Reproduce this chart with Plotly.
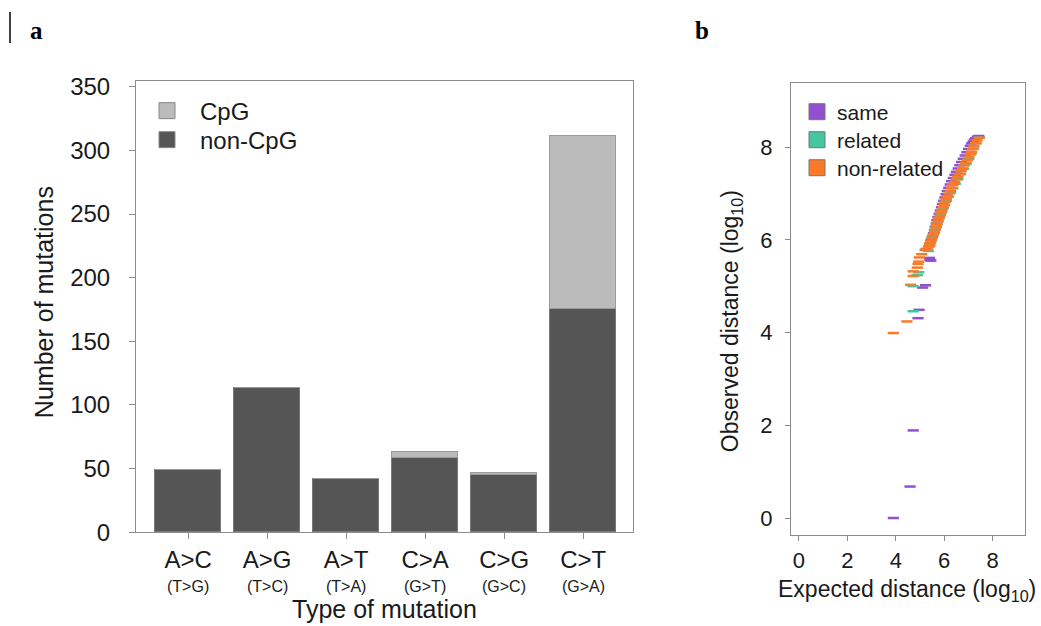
import plotly.graph_objects as go

# ---------------- Panel a data ----------------
mutation_types = ["A&gt;C", "A&gt;G", "A&gt;T", "C&gt;A", "C&gt;G", "C&gt;T"]
complement_types = ["(T&gt;G)", "(T&gt;C)", "(T&gt;A)", "(G&gt;T)", "(G&gt;C)", "(G&gt;A)"]
non_cpg = [49, 113, 42, 58, 45, 175]
cpg = [0, 0, 0, 5, 1.5, 136]
y_ticks_a = [0, 50, 100, 150, 200, 250, 300, 350]

# ---------------- Panel b data ----------------
same_x = [3.90, 4.59, 4.72, 4.92, 4.96, 5.11, 5.23, 5.39, 5.41, 5.45,
          5.46, 5.52, 5.56, 5.60, 5.63, 5.67, 5.70, 5.74, 5.79, 5.84, 5.89, 5.93,
          5.98, 6.03, 6.08, 6.13, 6.19, 6.25, 6.31, 6.38, 6.45, 6.51, 6.58, 6.65,
          6.72, 6.79, 6.87, 6.94, 7.01, 7.08, 7.14, 7.20, 7.25, 7.30, 7.37, 7.43]
same_y = [0.00, 0.68, 1.89, 4.31, 4.49, 4.97, 5.02, 5.61, 5.57, 5.55,
          6.00, 6.07, 6.14, 6.21, 6.28, 6.35, 6.42, 6.49, 6.56, 6.63, 6.70, 6.77,
          6.84, 6.91, 6.98, 7.05, 7.12, 7.19, 7.26, 7.33, 7.40, 7.47, 7.54, 7.61,
          7.68, 7.75, 7.82, 7.89, 7.96, 8.03, 8.08, 8.12, 8.16, 8.19, 8.22, 8.24]

related_x = [4.72, 4.72, 4.89, 4.95, 5.35, 5.25,
             5.36, 5.40, 5.45, 5.50, 5.55, 5.60, 5.65, 5.70, 5.75, 5.80, 5.85,
             5.90, 5.96, 6.02, 6.10, 6.18, 6.27, 6.36, 6.46, 6.57, 6.68, 6.80,
             6.91, 7.02, 7.12, 7.22, 7.32, 7.46]
related_y = [4.46, 5.00, 5.24, 5.30, 5.76, 5.80,
             5.84, 5.91, 5.98, 6.05, 6.12, 6.19, 6.26, 6.33, 6.40, 6.47, 6.54,
             6.61, 6.68, 6.75, 6.84, 6.93, 7.02, 7.11, 7.21, 7.31, 7.42, 7.53,
             7.64, 7.75, 7.86, 7.97, 8.08, 8.20]

nonrel_x = [3.90, 4.46, 4.61, 4.72, 4.72, 4.89, 4.92, 4.95, 4.97, 5.07, 5.21, 5.41, 5.44,
            5.30, 5.35, 5.40, 5.46, 5.50, 5.55, 5.60, 5.64, 5.68, 5.71, 5.74, 5.78,
            5.83, 5.87, 5.91, 5.96, 6.00, 6.04, 6.09, 6.14, 6.20, 6.26, 6.31, 6.37,
            6.43, 6.50, 6.56, 6.63, 6.70, 6.76, 6.83, 6.89, 6.96, 7.02, 7.08, 7.13,
            7.18, 7.23, 7.30, 7.36, 7.45]
nonrel_y = [3.99, 4.24, 5.03, 5.22, 5.32, 5.40, 5.48, 5.53, 5.62, 5.69, 5.78, 5.87, 5.94,
            5.80, 5.86, 5.92, 5.98, 6.04, 6.10, 6.16, 6.22, 6.28, 6.34, 6.40, 6.46,
            6.52, 6.58, 6.64, 6.70, 6.76, 6.82, 6.88, 6.94, 7.00, 7.06, 7.12, 7.18,
            7.24, 7.30, 7.36, 7.42, 7.48, 7.54, 7.60, 7.66, 7.72, 7.78, 7.84, 7.90,
            7.96, 8.02, 8.08, 8.14, 8.20]
b_ticks = [0, 2, 4, 6, 8]

# ---------------- styling ----------------
W, H = 1041, 626
FONT = "Liberation Sans, Arial, sans-serif"
AX_GREY = "#8c8c8c"
TXT = "#1a1a1a"
DARK = "#555555"
LIGHT = "#bbbbbb"
PURPLE = "#9150d0"
TEAL = "#45c6a0"
ORANGE = "#fb7a2a"


def py(y):
    """target pixel row -> paper fraction (compensates the capture's vertical offset/scale)"""
    return 1 - ((y - 8) / 0.966) / H


def px(x):
    return x / W


fig = go.Figure()

xpos = list(range(len(mutation_types)))

fig.add_trace(go.Bar(x=xpos, y=non_cpg, width=0.835, marker=dict(color=DARK, line=dict(color="#7a7a7a", width=1)),
                     showlegend=False, xaxis="x", yaxis="y"))
fig.add_trace(go.Bar(x=xpos, y=cpg, width=0.835, marker=dict(color=LIGHT, line=dict(color="#9a9a9a", width=1)),
                     showlegend=False, xaxis="x", yaxis="y"))

# legend entries panel a (one legend per entry for exact spacing)
fig.add_trace(go.Scatter(x=[None], y=[None], mode="markers", name="CpG",
                         marker=dict(symbol="square", size=16, color=LIGHT, line=dict(color="#888888", width=1)),
                         legend="legend", xaxis="x", yaxis="y"))
fig.add_trace(go.Scatter(x=[None], y=[None], mode="markers", name="non-CpG",
                         marker=dict(symbol="square", size=16, color=DARK, line=dict(color="#888888", width=1)),
                         legend="legend3", xaxis="x", yaxis="y"))

# panel b scatter
for xs, ys, col in [(same_x, same_y, PURPLE), (related_x, related_y, TEAL), (nonrel_x, nonrel_y, ORANGE)]:
    fig.add_trace(go.Scatter(x=xs, y=ys, mode="markers", showlegend=False,
                             marker=dict(symbol="line-ew", size=8, color=col, line=dict(color=col, width=2.5)),
                             xaxis="x2", yaxis="y2"))

for name, col, lg in [("same", PURPLE, "legend2"), ("related", TEAL, "legend4"), ("non-related", ORANGE, "legend5")]:
    fig.add_trace(go.Scatter(x=[None], y=[None], mode="markers", name=name,
                             marker=dict(symbol="square", size=16, color=col, line=dict(color="#777777", width=1)),
                             legend=lg, xaxis="x2", yaxis="y2"))

axis_common = dict(showline=True, linecolor=AX_GREY, linewidth=1, mirror=True, ticks="outside",
                   tickcolor=AX_GREY, ticklen=6, showgrid=False, zeroline=False,
                   tickfont=dict(family=FONT, size=24, color=TXT))

annotations = []
for i, c in enumerate(complement_types):
    annotations.append(dict(x=i, y=py(586), xref="x", yref="paper", text=c, showarrow=False,
                            font=dict(family=FONT, size=16, color=TXT), xanchor="center", yanchor="middle"))
annotations += [
    dict(x=px(384), y=py(609), xref="paper", yref="paper", text="Type of mutation", showarrow=False,
         font=dict(family=FONT, size=25, color=TXT), xanchor="center", yanchor="middle"),
    dict(x=px(44), y=py(302), xref="paper", yref="paper", text="Number of mutations", showarrow=False,
         textangle=-90, font=dict(family=FONT, size=25, color=TXT), xanchor="center", yanchor="middle"),
    dict(x=px(907), y=py(590), xref="paper", yref="paper", text="Expected distance (log<sub>10</sub>)",
         showarrow=False, font=dict(family=FONT, size=23, color=TXT), xanchor="center", yanchor="middle"),
    dict(x=px(731), y=py(321), xref="paper", yref="paper", text="Observed distance (log<sub>10</sub>)",
         showarrow=False, textangle=-90, font=dict(family=FONT, size=23, color=TXT), xanchor="center", yanchor="middle"),
    dict(x=px(36), y=py(30), xref="paper", yref="paper", text="<b>a</b>", showarrow=False,
         font=dict(family="Liberation Serif, Times New Roman, serif", size=25, color="#000"), xanchor="center", yanchor="middle"),
    dict(x=px(702), y=py(30), xref="paper", yref="paper", text="<b>b</b>", showarrow=False,
         font=dict(family="Liberation Serif, Times New Roman, serif", size=25, color="#000"), xanchor="center", yanchor="middle"),
]


def leg(x, y, size, iw):
    return dict(x=px(x), y=py(y), xanchor="left", yanchor="middle", bgcolor="rgba(0,0,0,0)",
                font=dict(family=FONT, size=size, color=TXT), itemwidth=iw, traceorder="normal")


fig.update_layout(
    width=W, height=H, autosize=False, margin=dict(l=0, r=0, t=0, b=0),
    paper_bgcolor="white", plot_bgcolor="white",
    barmode="stack", bargap=0,
    font=dict(family=FONT, color=TXT),
    xaxis=dict(axis_common, domain=[px(136), px(633)], range=[-0.66, 5.63], tickvals=xpos,
               ticktext=mutation_types, anchor="y"),
    yaxis=dict(axis_common, domain=[py(532), py(81)], range=[0, 354.5], tickvals=y_ticks_a,
               anchor="x", ticklabelstandoff=14),
    xaxis2=dict(axis_common, domain=[px(791), px(1025)], range=[-0.33, 9.34], tickvals=b_ticks,
                anchor="y2", tickfont=dict(family=FONT, size=22, color=TXT), ticklen=5),
    yaxis2=dict(axis_common, domain=[py(535), py(83)], range=[-0.37, 9.38], tickvals=b_ticks,
                anchor="x2", tickfont=dict(family=FONT, size=22, color=TXT), ticklen=5, ticklabelstandoff=8),
    legend=leg(134, 111, 24, 56),
    legend3=leg(134, 140, 24, 56),
    legend2=leg(797, 112, 21, 30),
    legend4=leg(797, 140, 21, 30),
    legend5=leg(797, 168, 21, 30),
    annotations=annotations,
    shapes=[dict(type="line", xref="paper", yref="paper", x0=px(10), x1=px(10), y0=py(12), y1=py(43),
                 line=dict(color="#000", width=1.5))],
)

page_fix = (
    "document.documentElement.style.margin='0px';"
    "document.documentElement.style.overflow='hidden';"
    "document.body.style.margin='0px';"
    "document.body.style.overflow='hidden';"
    "var gd=document.getElementById('{plot_id}');"
    "gd.style.position='absolute';gd.style.left='0px';gd.style.top='0px';"
)

fig.write_html("out.html", config={"displayModeBar": False, "responsive": False}, post_script=page_fix)
